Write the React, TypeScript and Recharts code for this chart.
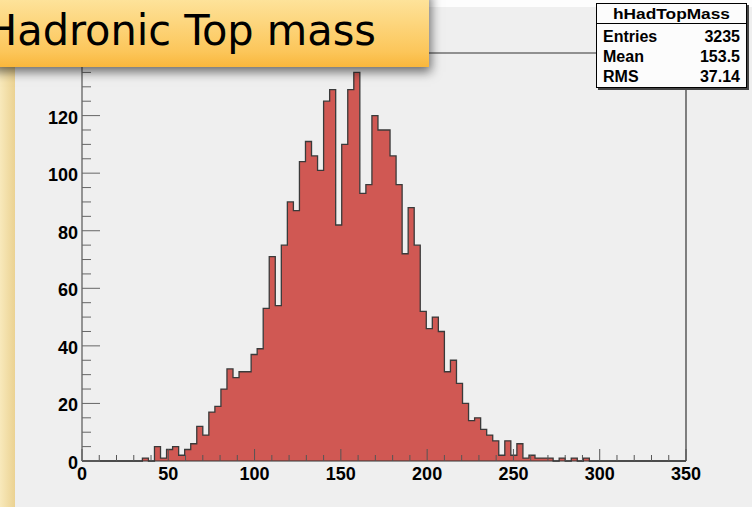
import { AreaChart, Area, XAxis, YAxis, ReferenceLine } from "recharts";

// hHadTopMass: 100 bins of 3.5 GeV from 0 to 350
const binWidth = 3.5;
const binCounts = [
  0, 0, 0, 0, 0, 0, 0, 0, 0, 0,
  1, 0, 5, 1, 4, 5, 2, 4, 6, 12,
  9, 17, 19, 25, 32, 29, 31, 31, 37, 39,
  53, 71, 54, 75, 90, 87, 104, 111, 106, 101,
  125, 129, 82, 110, 129, 135, 93, 96, 120, 115,
  115, 106, 96, 72, 88, 75, 52, 46, 50, 45,
  31, 35, 27, 20, 14, 15, 11, 9, 7, 2,
  7, 2, 6, 1, 2, 1, 1, 1, 0, 1,
  0, 1, 0, 1, 0, 0, 0, 0, 0, 0,
  0, 0, 0, 0, 0, 0, 0, 0, 0, 0,
];

const xTicks = [
  0, 10, 20, 30, 40, 50, 60, 70, 80, 90, 100, 110, 120, 130, 140, 150, 160, 170,
  180, 190, 200, 210, 220, 230, 240, 250, 260, 270, 280, 290, 300, 310, 320, 330,
  340, 350,
];
const xLabels = [0, 50, 100, 150, 200, 250, 300, 350];
const yTicks = [
  0, 5, 10, 15, 20, 25, 30, 35, 40, 45, 50, 55, 60, 65, 70, 75, 80, 85, 90, 95,
  100, 105, 110, 115, 120, 125, 130, 135, 140,
];
const yLabels = [0, 20, 40, 60, 80, 100, 120];

const statsRows = [
  { label: "Entries", value: "3235" },
  { label: "Mean", value: "153.5" },
  { label: "RMS", value: "37.14" },
];

const yMax = 141.75;

const histData = binCounts.map((count, i) => ({ x: i * binWidth, count }));
histData.push({ x: binCounts.length * binWidth, count: binCounts[binCounts.length - 1] });

const labelFont = '"Liberation Sans", Arial, Helvetica, sans-serif';

const XTick = (props: any) => {
  const { x, y, payload } = props;
  const major = xLabels.includes(payload.value);
  return (
    <g>
      <line x1={x} y1={y} x2={x} y2={y - (major ? 12 : 6)} stroke="#555" strokeWidth={1} />
      {major && (
        <text x={x} y={y + 19} textAnchor="middle" fontFamily={labelFont} fontWeight="bold" fontSize={18} fill="#000">
          {payload.value}
        </text>
      )}
    </g>
  );
};

const YTick = (props: any) => {
  const { x, y, payload } = props;
  const major = yLabels.includes(payload.value);
  return (
    <g>
      <line x1={x} y1={y} x2={x + (major ? 18 : 9)} y2={y} stroke="#666" strokeWidth={1} />
      {major && (
        <text x={x - 4} y={y + 8} textAnchor="end" fontFamily={labelFont} fontWeight="bold" fontSize={18} fill="#000">
          {payload.value}
        </text>
      )}
    </g>
  );
};

export default function App() {
  return (
    <div
      style={{
        position: "absolute",
        left: 0,
        top: 0,
        width: 752,
        height: 507,
        background: "#efefef",
        overflow: "hidden",
      }}
    >
      <div style={{ position: "absolute", left: 0, top: 0, width: 752, height: 7, background: "#fdfdfd" }} />
      <div
        style={{
          position: "absolute",
          left: 0,
          top: 0,
          width: 15,
          height: 507,
          background: "linear-gradient(to right, #f8e9bb, #ebd292)",
        }}
      />

      <div style={{ position: "absolute", left: 0, top: 0 }}>
        <AreaChart width={752} height={507} data={histData} margin={{ top: 53, right: 66, bottom: 6, left: 12 }}>
          <Area
            type="stepAfter"
            dataKey="count"
            stroke="#3a3a3a"
            strokeWidth={1.3}
            fill="#d05853"
            fillOpacity={1}
            dot={false}
            activeDot={false}
            isAnimationActive={false}
          />
          <ReferenceLine x={350} stroke="#333" strokeWidth={1.2} />
          <ReferenceLine y={yMax} stroke="#333" strokeWidth={1.2} />
          <XAxis
            dataKey="x"
            type="number"
            domain={[0, 350]}
            ticks={xTicks}
            interval={0}
            tickSize={0}
            tickMargin={0}
            tick={<XTick />}
            axisLine={{ stroke: "#333", strokeWidth: 1.2 }}
            height={40}
          />
          <YAxis
            type="number"
            domain={[0, yMax]}
            ticks={yTicks}
            interval={0}
            tickSize={0}
            tickMargin={0}
            tick={<YTick />}
            axisLine={{ stroke: "#555", strokeWidth: 1.2 }}
            width={70}
          />
        </AreaChart>
      </div>

      {/* slide title box */}
      <div
        style={{
          position: "absolute",
          left: -10,
          top: -10,
          width: 439,
          height: 77,
          background: "linear-gradient(to bottom, #fee8a6, #fcc65a 80%, #f9b73c)",
          boxShadow: "2px 5px 10px rgba(0,0,0,0.55)",
        }}
      />
      <svg style={{ position: "absolute", left: 0, top: 0 }} width={752} height={507}>
        <text
          x={-14}
          y={45}
          fontSize={42}
          fontFamily='"Liberation Sans Narrow", "DejaVu Sans Condensed", "Liberation Sans", sans-serif'
          textLength={390}
          lengthAdjust="spacingAndGlyphs"
          fill="#000"
        >
          Hadronic Top mass
        </text>

        {/* stats box */}
        <rect x={598} y={5} width={151} height={85} fill="#444" />
        <rect x={596.5} y={3.5} width={150} height={84} fill="#fcfcfc" stroke="#000" strokeWidth={1} />
        <line x1={596.5} y1={23.5} x2={746.5} y2={23.5} stroke="#000" strokeWidth={1} />
        <text
          x={671.5}
          y={19}
          textAnchor="middle"
          fontFamily={labelFont}
          fontWeight="bold"
          fontSize={15}
          textLength={117}
          lengthAdjust="spacingAndGlyphs"
        >
          hHadTopMass
        </text>
        {statsRows.map((r, i) => (
          <g key={r.label}>
            <text x={603} y={42 + i * 20} fontFamily={labelFont} fontWeight="bold" fontSize={16}>
              {r.label}
            </text>
            <text x={740} y={42 + i * 20} textAnchor="end" fontFamily={labelFont} fontWeight="bold" fontSize={16}>
              {r.value}
            </text>
          </g>
        ))}
      </svg>
    </div>
  );
}
